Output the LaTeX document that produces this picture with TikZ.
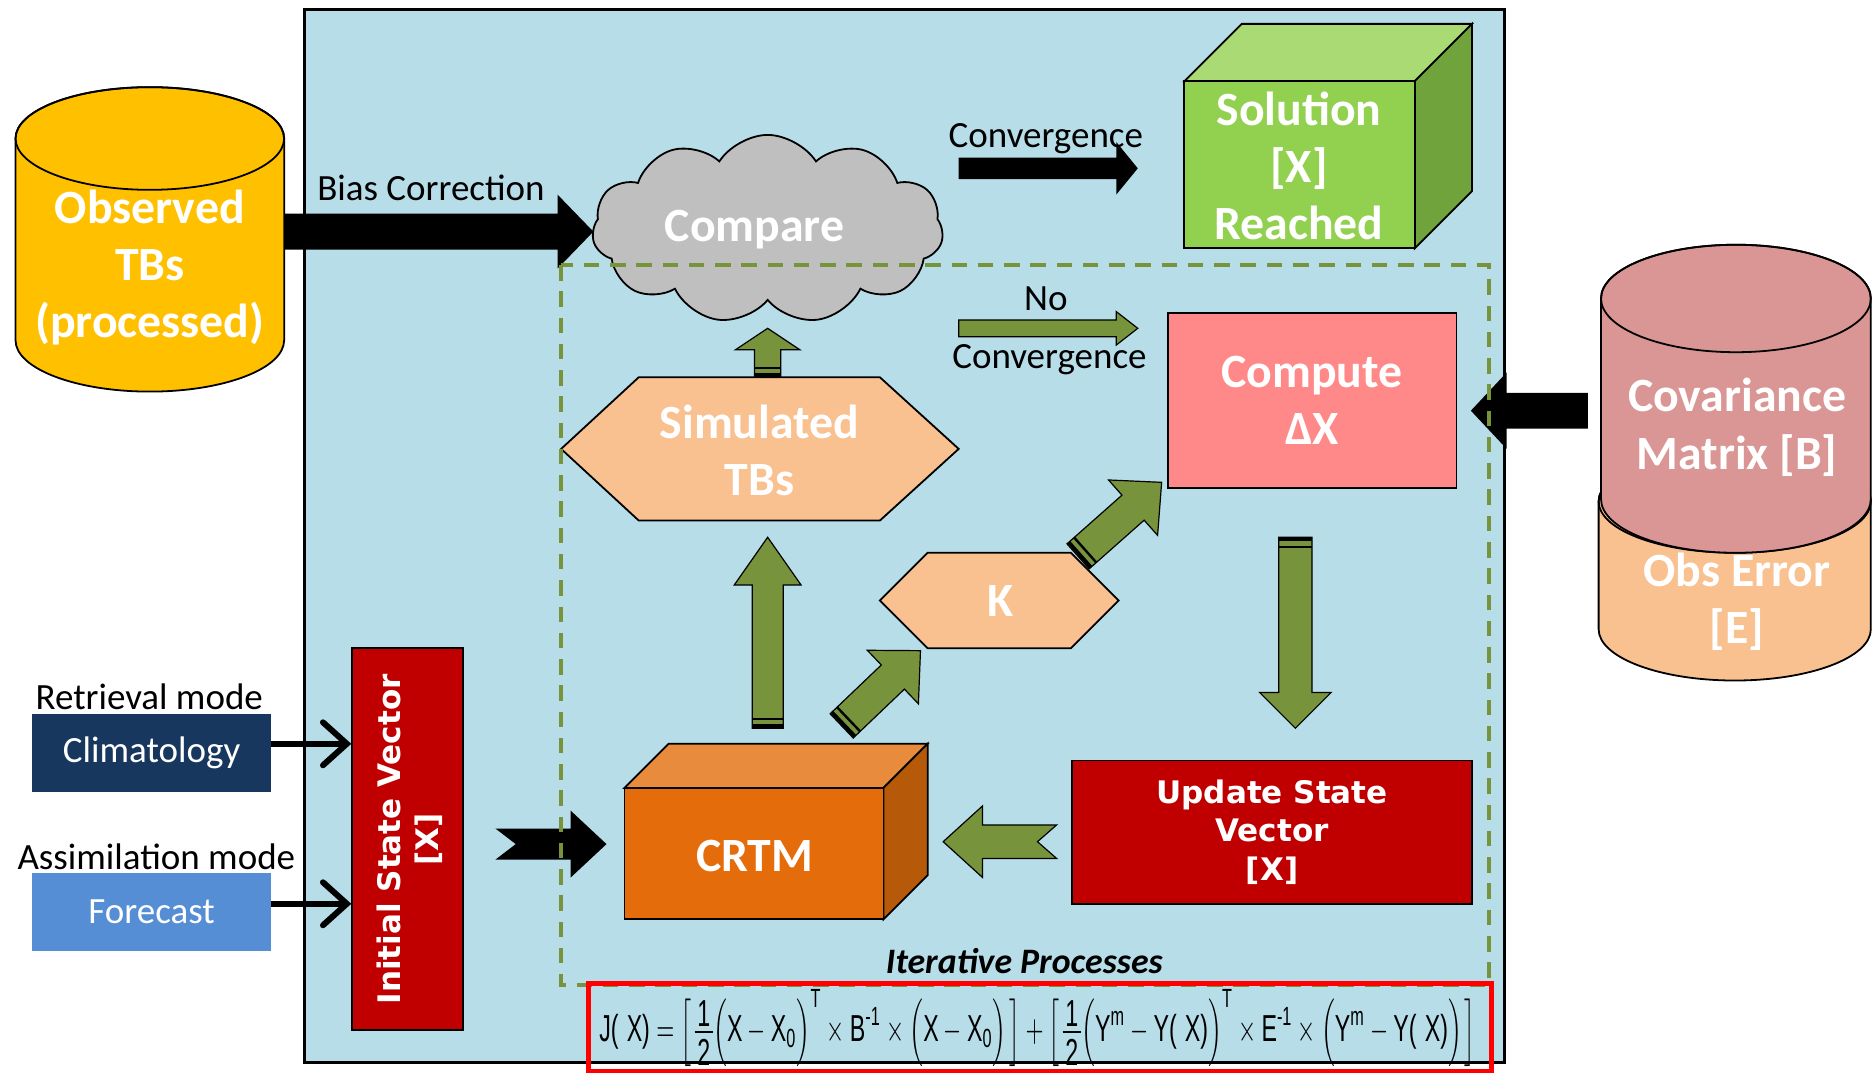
\documentclass[tikz,border=0pt]{standalone}
\usepackage{fontspec}
\usepackage{amsmath}
\usepackage{graphicx}
\setmainfont{Carlito}
\newfontfamily\verd{DejaVu Sans}
\newfontfamily\eqfont{Liberation Sans}
\usetikzlibrary{calc,shapes.symbols,arrows.meta}

\definecolor{bgblue}{HTML}{B7DDE8}
\definecolor{olivegr}{HTML}{77933C}
\definecolor{gold}{HTML}{FFC000}
\definecolor{cloudgray}{HTML}{BFBFBF}
\definecolor{solfront}{HTML}{92D050}
\definecolor{soltop}{HTML}{A9DA74}
\definecolor{solside}{HTML}{70A33C}
\definecolor{salmon}{HTML}{FF8989}
\definecolor{peach}{HTML}{F9C090}
\definecolor{rose}{HTML}{D99694}
\definecolor{darkred}{HTML}{C00000}
\definecolor{crtmfront}{HTML}{E46C0A}
\definecolor{crtmtop}{HTML}{E98B3D}
\definecolor{crtmside}{HTML}{B65A09}
\definecolor{navy}{HTML}{17375E}
\definecolor{skyblue}{HTML}{558ED5}

\newcommand\tx[1]{\text{\eqfont #1}}
\newcommand\half{\mathord{\vcenter{\hbox{\eqfont\vbox{\offinterlineskip\halign{\hfil\kern1.2pt##\kern1.2pt\hfil\cr\rule{0pt}{7.4pt}1\cr\noalign{\kern1.2pt\hrule height0.5pt\kern1.2pt}\rule{0pt}{7.4pt}2\cr}}}}}}
\newcommand\tallp[1]{\Big(#1\Big)}
\newcommand\lbr{\mathopen{\left[\vphantom{\half}\right.}}
\newcommand\rbr{\mathclose{\left.\vphantom{\half}\right]}}

% block arrow: #1 style, #2 from, #3 to, #4 shaft half width, #5 head half width, #6 head length, #7 tail notch
\newcommand\blockarrow[7]{%
  \coordinate (baC) at ($(#3)!#6!(#2)$);
  \path[#1] ($(#2)!#4!90:(#3)$) -- ($(baC)!#4!-90:(#2)$) -- ($(baC)!#5!-90:(#2)$) -- (#3)
     -- ($(baC)!#5!90:(#2)$) -- ($(baC)!#4!90:(#2)$) -- ($(#2)!#4!-90:(#3)$) -- ($(#2)!#7!(#3)$) -- cycle;
}
% black stripes at the tail of an arrow: #1 from, #2 to, #3 half width
\newcommand\tailstripe[3]{%
  \coordinate (tsA) at ($(#1)!2pt!(#2)$);
  \coordinate (tsB) at ($(#1)!8pt!(#2)$);
  \draw[line width=3pt] ($(tsA)!#3!90:(#2)$) -- ($(tsA)!#3!-90:(#2)$);
  \draw[line width=2pt] ($(tsB)!#3!90:(#2)$) -- ($(tsB)!#3!-90:(#2)$);
}
% cylinder: #1 fill, #2 cx, #3 top centre y, #4 bottom centre y, #5 rx, #6 ry
\newcommand\cyl[6]{%
  \filldraw[fill=#1, draw=black, line width=1.5pt] (#2-#5,#3) -- (#2-#5,#4)
     arc[start angle=180, end angle=360, x radius=#5pt, y radius=#6pt] -- (#2+#5,#3)
     arc[start angle=0, end angle=180, x radius=#5pt, y radius=#6pt] -- cycle;
  \draw[line width=1.5pt] (#2,#3) ellipse[x radius=#5pt, y radius=#6pt];
}

\tikzset{
  boldlbl/.style={text=white, font=\fontsize{40}{48}\selectfont\bfseries, align=center},
  plainlbl/.style={text=black, font=\fontsize{31}{36}\selectfont},
  verdlbl/.style={text=white, font=\verd\fontsize{26}{32}\selectfont\bfseries, align=center},
  outl/.style={draw=black, line width=1.5pt},
  greenarrow/.style={fill=olivegr, draw=black, line width=1pt},
  blackarrow/.style={fill=black},
}

\begin{document}
\begin{tikzpicture}[x=1pt, y=-1pt]
\useasboundingbox (0,0) rectangle (1568,900);
\fill[white] (0,0) rectangle (1568,900);

% main panel
\filldraw[fill=bgblue, draw=black, line width=2pt] (255,8) rectangle (1260,890);

% Observed TBs
\cyl{gold}{125.5}{116}{285}{112.5}{43}
\node[boldlbl] (obs) at (125.5,224) {Observed\\TBs\\(processed)};
\coordinate (obsR) at (238,194);

% Compare cloud
\node[cloud, cloud puffs=11, cloud puff arc=115, cloud ignores aspect, draw=black, line width=1.5pt,
      fill=cloudgray, minimum width=294pt, minimum height=158pt, inner sep=0pt] (cmp) at (643,192) {};
\node[boldlbl] (cmptxt) at (632,192) {Compare};
\coordinate (cmpL) at (497,194);
\coordinate (cmpB) at (643,275);

% Bias correction arrow
\blockarrow{blackarrow}{obsR}{cmpL}{15pt}{31pt}{30pt}{0pt}
\node[plainlbl] (biaslbl) at (361,157) {Bias Correction};

% Solution cube
\filldraw[fill=soltop, outl] (992,68) -- (1040,20) -- (1233,20) -- (1185,68) -- cycle;
\filldraw[fill=solside, outl] (1185,68) -- (1233,20) -- (1233,160) -- (1185,208) -- cycle;
\filldraw[fill=solfront, outl] (992,68) rectangle (1185,208);
\node[boldlbl] (sol) at (1088,139) {Solution\\{[X]}\\Reached};
\coordinate (convA) at (803,141);
\coordinate (convB) at (953,141);
\blockarrow{blackarrow}{convA}{convB}{9pt}{22pt}{18pt}{0pt}
\node[plainlbl] (convlbl) at (876,116) {Convergence};

% Compute Delta X
\node[outl, fill=salmon, minimum width=242pt, minimum height=147pt, boldlbl] (comp) at (1099,335.5) {Compute\\ΔX};
\coordinate (ncA) at (803,275);
\coordinate (ncB) at (953,275);
\blockarrow{greenarrow}{ncA}{ncB}{7pt}{14pt}{18pt}{0pt}
\node[plainlbl] (nolbl) at (876,250) {No};
\node[plainlbl] (ncvlbl) at (879,301) {Convergence};

% Obs error and covariance
\cyl{peach}{1453}{420}{527}{114}{43}
\cyl{rose}{1454}{250}{418}{113}{45}
\node[boldlbl] (cov) at (1455,358) {Covariance\\Matrix [B]};
\node[boldlbl] (obserr) at (1455,504) {Obs Error\\{[E]}};
\coordinate (covL) at (1330,344);
\coordinate (compR) at (1232,344);
\blockarrow{blackarrow}{covL}{compR}{15pt}{32pt}{30pt}{0pt}

% Simulated TBs
\filldraw[fill=peach, outl] (470,376) -- (535,316) -- (737,316) -- (803,376) -- (737,436) -- (535,436) -- cycle;
\node[boldlbl] (sim) at (636,377) {Simulated\\TBs};
\coordinate (simT) at (643,316);
\coordinate (simB) at (643,450);
\blockarrow{greenarrow}{simT}{cmpB}{11pt}{27pt}{18pt}{0pt}
\tailstripe{simT}{cmpB}{11pt}

% K
\filldraw[fill=peach, outl] (737,503) -- (777,463) -- (897,463) -- (937,503) -- (897,543) -- (777,543) -- cycle;
\node[boldlbl] (K) at (838,503) {K};

% CRTM cube
\filldraw[fill=crtmtop, outl] (523,660) -- (560,623) -- (777,623) -- (740,660) -- cycle;
\filldraw[fill=crtmside, outl] (740,660) -- (777,623) -- (777,733) -- (740,770) -- cycle;
\filldraw[fill=crtmfront, outl] (523,660) rectangle (740,770);
\node[boldlbl] (crtm) at (632,717) {CRTM};
\coordinate (crtmT) at (643,610);
\blockarrow{greenarrow}{crtmT}{simB}{13pt}{28pt}{40pt}{0pt}
\tailstripe{crtmT}{simB}{13pt}

\coordinate (crtmK) at (705,608);
\coordinate (Kin) at (771,545);
\blockarrow{greenarrow}{crtmK}{Kin}{14pt}{31pt}{32pt}{0pt}
\tailstripe{crtmK}{Kin}{14pt}
\coordinate (Kout) at (903,466);
\coordinate (compin) at (973,404);
\blockarrow{greenarrow}{Kout}{compin}{14pt}{31pt}{32pt}{0pt}
\tailstripe{Kout}{compin}{14pt}

% Update state vector
\node[outl, fill=darkred, minimum width=335pt, minimum height=120pt, verdlbl] (upd) at (1065.5,697) {Update State\\Vector\\{[X]}};
\coordinate (compB) at (1085,450);
\coordinate (updT) at (1085,610);
\blockarrow{greenarrow}{compB}{updT}{14pt}{30pt}{30pt}{0pt}
\tailstripe{compB}{updT}{14pt}
\coordinate (updL) at (885,705);
\coordinate (crtmR) at (790,705);
\blockarrow{greenarrow}{updL}{crtmR}{14pt}{30pt}{33pt}{16pt}

% Initial state vector
\node[outl, fill=darkred, minimum width=93pt, minimum height=320pt] (init) at (341.5,703) {};
\node[verdlbl, rotate=90] (inittxt) at (343,703) {Initial State Vector\\{[X]}};
\coordinate (initR) at (415,707);
\coordinate (crtmL) at (508,707);
\blockarrow{blackarrow}{initR}{crtmL}{13pt}{28pt}{30pt}{17pt}

% Climatology / Forecast
\node[fill=navy, minimum width=200pt, minimum height=65pt, text=white, font=\fontsize{31}{36}\selectfont] (clim) at (127,630.5) {Climatology};
\node[plainlbl] (retlbl) at (125,584) {Retrieval mode};
\node[fill=skyblue, minimum width=200pt, minimum height=65pt, text=white, font=\fontsize{31}{36}\selectfont] (fcst) at (127,764) {Forecast};
\node[plainlbl] (asslbl) at (131,718) {Assimilation mode};
\coordinate (climout) at (227,623);
\coordinate (fcstout) at (227,757);
\draw[line width=5pt, -{Straight Barb[length=20pt, width=36pt, line cap=round]}] (climout) -- (climout -| init.west);
\draw[line width=5pt, -{Straight Barb[length=20pt, width=36pt, line cap=round]}] (fcstout) -- (fcstout -| init.west);

% iterative dashed frame
\draw[olivegr, line width=3.5pt, dash pattern=on 13pt off 9pt] (470,222) rectangle (1247,825);
\node[text=black, font=\fontsize{30}{34}\selectfont\bfseries\itshape, inner sep=0pt] (iter) at (858,805) {Iterative Processes};

% equation
\draw[red, line width=4pt] (493,824) rectangle (1249,897);
\node[inner sep=0pt] (eq) at (869,861) {\resizebox*{734pt}{64pt}{$\tx{J(\hspace{0.35em}X)}=\lbr\half\tallp{\tx{X}-\tx{X}_{\tx{0}}}^{\tx{T}}\times\tx{B}^{\tx{-1}}\times\tallp{\tx{X}-\tx{X}_{\tx{0}}}\rbr+\lbr\half\tallp{\tx{Y}^{\tx{m}}-\tx{Y(\hspace{0.35em}X)}}^{\tx{T}}\times\tx{E}^{\tx{-1}}\times\tallp{\tx{Y}^{\tx{m}}-\tx{Y(\hspace{0.35em}X)}}\rbr$}};
\end{tikzpicture}
\end{document}
